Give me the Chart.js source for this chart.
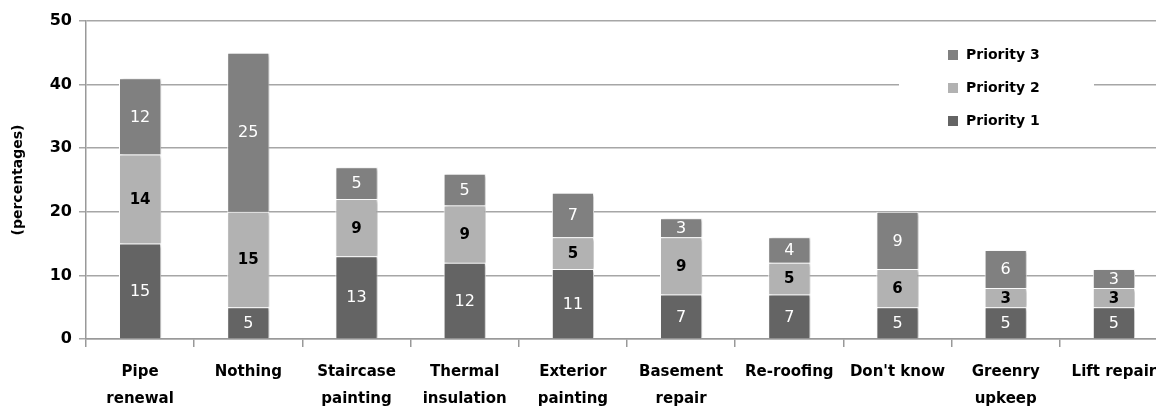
<!DOCTYPE html>
<html>
<head>
<meta charset="utf-8">
<script src="https://cdn.jsdelivr.net/npm/chart.js@4/dist/chart.umd.min.js"></script>
<style>
  html, body { margin: 0; padding: 0; background: #fff; overflow: hidden; }
  #wrap { width: 1170px; height: 408px; position: relative; }
</style>
</head>
<body>
<div id="wrap"><canvas id="chart"></canvas></div>
<script>
const categories = [['Pipe', 'renewal'], 'Nothing', ['Staircase', 'painting'], ['Thermal', 'insulation'],
  ['Exterior', 'painting'], ['Basement', 'repair'], 'Re-roofing', "Don't know", ['Greenry', 'upkeep'], 'Lift repair'];
const priority1 = [15, 5, 13, 12, 11, 7, 7, 5, 5, 5];
const priority2 = [14, 15, 9, 9, 5, 9, 5, 6, 3, 3];
const priority3 = [12, 25, 5, 5, 7, 3, 4, 9, 6, 3];
const seriesNames = ['Priority 1', 'Priority 2', 'Priority 3'];
const seriesColors = ['#646464', '#b2b2b2', '#808080'];
const yTicks = [0, 10, 20, 30, 40, 50];

const FONT = '"DejaVu Sans", sans-serif';

// legend floating in the top-right of the plot (drawn before the shadow is switched on)
const floatLegend = {
  id: 'floatLegend',
  beforeDatasetsDraw(chart) {
    const c = chart.ctx;
    c.save();
    c.fillStyle = '#ffffff';
    c.fillRect(899, 38, 195, 100);
    c.font = 'bold 14px ' + FONT;
    c.textBaseline = 'middle';
    c.textAlign = 'left';
    [2, 1, 0].forEach((di, row) => {
      const y = 55 + row * 33;
      c.fillStyle = seriesColors[di];
      c.fillRect(948, y - 5, 10, 10);
      c.fillStyle = '#000';
      c.fillText(seriesNames[di], 966, y);
    });
    c.restore();
  }
};

// soft drop shadow under the bars
const barShadow = {
  id: 'barShadow',
  beforeDatasetsDraw(chart) {
    const c = chart.ctx;
    c.save();
    c.shadowColor = 'rgba(0,0,0,0.28)';
    c.shadowBlur = 3;
    c.shadowOffsetX = 2;
    c.shadowOffsetY = 1;
  },
  afterDatasetsDraw(chart) {
    chart.ctx.restore();
  }
};

// value labels inside each segment
const segmentLabels = {
  id: 'segmentLabels',
  afterDatasetsDraw(chart) {
    const c = chart.ctx;
    c.save();
    c.textAlign = 'center';
    c.textBaseline = 'middle';
    chart.data.datasets.forEach((ds, di) => {
      const meta = chart.getDatasetMeta(di);
      meta.data.forEach((bar, i) => {
        const dark = di !== 1;
        c.fillStyle = dark ? '#ffffff' : '#000000';
        c.font = dark ? '16px ' + FONT : 'bold 15px ' + FONT;
        c.fillText(String(ds.data[i]), bar.x, (bar.y + bar.base) / 2 + 1);
      });
    });
    c.restore();
  }
};

const seriesData = [priority1, priority2, priority3];

new Chart(document.getElementById('chart'), {
  type: 'bar',
  data: {
    labels: categories,
    datasets: seriesData.map((d, i) => ({
      label: seriesNames[i],
      data: d,
      backgroundColor: seriesColors[i],
      borderColor: '#ffffff',
      borderWidth: 1,
      barPercentage: 0.39,
      categoryPercentage: 1,
    })),
  },
  options: {
    responsive: true,
    maintainAspectRatio: false,
    animation: false,
    layout: { padding: { top: 21, right: 2, left: 0, bottom: 0 } },
    plugins: {
      legend: { display: false },
      tooltip: { enabled: false },
    },
    scales: {
      x: {
        stacked: true,
        grid: { offset: true, drawOnChartArea: false, tickLength: 8, color: '#999', lineWidth: 1.5 },
        border: { color: '#999', width: 1.5 },
        ticks: { color: '#000', font: { family: FONT, size: 15, weight: 'bold', lineHeight: 1.8 }, padding: 12, maxRotation: 0, autoSkip: false },
        afterFit: s => { s.height = 69; },
      },
      y: {
        stacked: true,
        min: 0,
        max: 50,
        afterBuildTicks: s => { s.ticks = yTicks.map(v => ({ value: v })); },
        grid: { color: '#a6a6a6', lineWidth: 1.5, tickLength: 7 },
        border: { color: '#999', width: 1.5 },
        ticks: { color: '#000', font: { family: FONT, size: 16, weight: 'bold' }, padding: 7 },
        title: { display: true, text: '(percentages)', color: '#000', font: { family: FONT, size: 14, weight: 'bold' }, padding: { top: 10, bottom: 0 } },
        afterFit: s => { s.width = 86; },
      },
    },
  },
  plugins: [floatLegend, barShadow, segmentLabels],
});
</script>
</body>
</html>
